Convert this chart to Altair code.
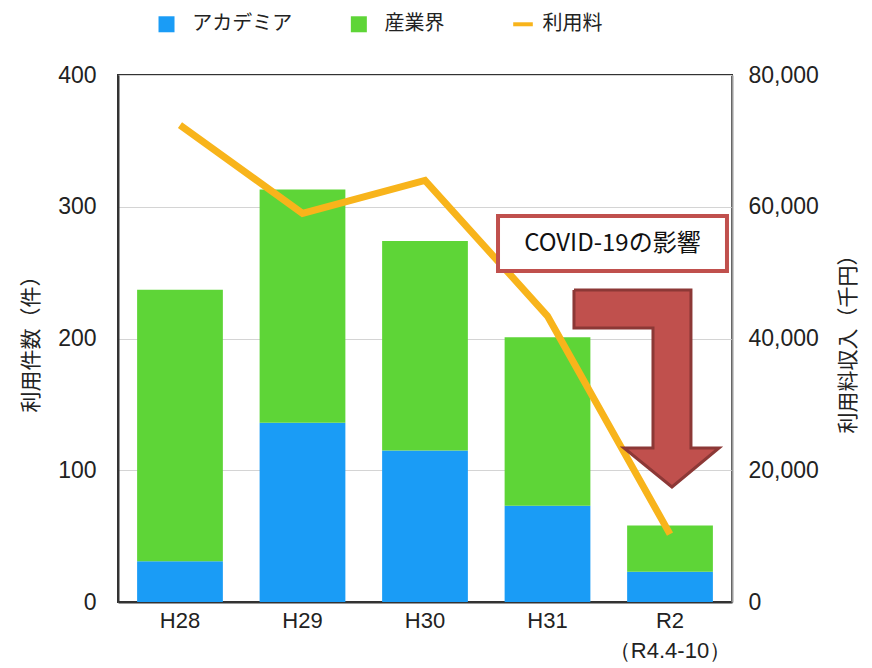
import altair as alt
import pandas as pd

# ---------------- data ----------------
years = ["H28", "H29", "H30", "H31", "R2"]
academia = [31, 136, 115, 73, 23]
industry = [206, 177, 159, 128, 35]
fee = [72400, 59000, 64000, 43400, 10300]

series_names = ["アカデミア", "産業界", "利用料"]
series_colors = ["#1a9cf6", "#5ed537", "#f8b41b"]

annotation_text = "COVID-19の影響"
r2_note = "（R4.4-10）"

# annotation geometry (x: category index units, y: left-axis units)
arrow_x = [3.216, 4.171, 4.171, 4.400, 4.016, 3.624, 3.861, 3.861, 3.216, 3.216]
arrow_y = [236.8, 236.8, 116.9, 116.9, 87.3, 116.9, 116.9, 208.0, 208.0, 236.8]
box_x = [2.596, 4.465]
box_y = [251.2, 293.0]
text_xy = [3.53, 272.0]

# legend layout (same overlay units)
legend_square_x = [-0.11, 1.46]
legend_line_x = [2.72, 2.88]
legend_text_x = [0.10, 1.67, 2.96]
legend_y = 438.5

# ---------------- tables ----------------
bar_rows = []
for i, y in enumerate(years):
    bar_rows.append({"year": y, "series": series_names[0], "value": academia[i], "ord": 0})
    bar_rows.append({"year": y, "series": series_names[1], "value": industry[i], "ord": 1})
bar_df = pd.DataFrame(bar_rows)
line_df = pd.DataFrame({"year": years, "fee": fee})
arrow_df = pd.DataFrame({"ax": arrow_x, "ay": arrow_y, "i": list(range(len(arrow_x)))})
box_df = pd.DataFrame({"x1": [box_x[0]], "x2": [box_x[1]], "y1": [box_y[0]], "y2": [box_y[1]]})
text_df = pd.DataFrame({"tx": [text_xy[0]], "ty": [text_xy[1]], "t": [annotation_text]})
lsq_df = pd.DataFrame({"lx": legend_square_x, "ly": [legend_y] * 2, "c": series_colors[:2]})
lln_df = pd.DataFrame({"lx": [legend_line_x[0]], "lx2": [legend_line_x[1]], "ly": [legend_y]})
ltx_df = pd.DataFrame({"lx": legend_text_x, "ly": [legend_y] * 3, "t": series_names})

JP = "Noto Sans CJK JP"
LAT = "Liberation Sans"
W, H = 614, 527
TXT = "#222222"

xband = alt.Scale(paddingInner=0.3, paddingOuter=0.156)
x_axis = alt.Axis(
    title=None, labelAngle=0, ticks=False, domainColor="#333333", domainWidth=2,
    labelFont=LAT, labelFontSize=22, labelColor=TXT, labelPadding=8, labelLineHeight=30,
    labelExpr=f"datum.value == 'R2' ? ['R2', '{r2_note}'] : datum.value",
)
xenc = alt.X("year:N", sort=years, scale=xband, axis=x_axis)

bars = alt.Chart(bar_df).mark_bar(opacity=1).encode(
    x=xenc,
    y=alt.Y(
        "value:Q", stack="zero", scale=alt.Scale(domain=[0, 400], nice=False),
        axis=alt.Axis(
            values=[0, 100, 200, 300, 400], title="利用件数（件）", ticks=False,
            domainColor="#333333", domainWidth=2, gridColor="#d4d4d4", gridWidth=1,
            labelFont=LAT, labelFontSize=23, labelColor=TXT, labelPadding=22,
            titleFont=JP, titleFontSize=21, titleFontWeight="normal", titleColor=TXT,
            titlePadding=16,
        ),
    ),
    color=alt.Color("series:N", scale=alt.Scale(domain=series_names[:2], range=series_colors[:2]), legend=None),
    order=alt.Order("ord:Q"),
)

line = alt.Chart(line_df).mark_line(color=series_colors[2], strokeWidth=7, strokeCap="butt", strokeJoin="miter").encode(
    x=xenc,
    y=alt.Y(
        "fee:Q", scale=alt.Scale(domain=[0, 80000], nice=False),
        axis=alt.Axis(
            orient="right", values=[0, 20000, 40000, 60000, 80000], format=",.0f", grid=False,
            ticks=False, domainColor="#9a9a9a", domainWidth=2,
            labelFont=LAT, labelFontSize=23, labelColor=TXT, labelPadding=16,
            title="利用料収入（千円）", titleAngle=270, titleFont=JP, titleFontSize=21,
            titleFontWeight="normal", titleColor=TXT, titlePadding=40,
        ),
    ),
)

main = alt.layer(bars, line).resolve_scale(y="independent")

ox = alt.Scale(domain=[-0.506, 4.506], nice=False, zero=False)
oy = alt.Scale(domain=[0, 400], nice=False)

arrow = alt.Chart(arrow_df).mark_line(
    fill="#c0504d", stroke="#8c3836", strokeWidth=3, strokeJoin="miter"
).encode(
    x=alt.X("ax:Q", scale=ox, axis=None),
    y=alt.Y("ay:Q", scale=oy, axis=None),
    order="i:Q",
)

box = alt.Chart(box_df).mark_rect(fill="white", stroke="#c0504d", strokeWidth=4).encode(
    x=alt.X("x1:Q", scale=ox, axis=None), x2="x2:Q",
    y=alt.Y("y1:Q", scale=oy, axis=None), y2="y2:Q",
)

btext = alt.Chart(text_df).mark_text(font=JP, fontSize=24, color="#111111").encode(
    x=alt.X("tx:Q", scale=ox, axis=None),
    y=alt.Y("ty:Q", scale=oy, axis=None),
    text="t:N",
)

lsq = alt.Chart(lsq_df).mark_square(size=256, opacity=1, filled=True).encode(
    x=alt.X("lx:Q", scale=ox, axis=None),
    y=alt.Y("ly:Q", scale=oy, axis=None),
    color=alt.Color("c:N", scale=None, legend=None),
)

lln = alt.Chart(lln_df).mark_rule(color=series_colors[2], strokeWidth=4).encode(
    x=alt.X("lx:Q", scale=ox, axis=None), x2="lx2:Q",
    y=alt.Y("ly:Q", scale=oy, axis=None),
)

ltx = alt.Chart(ltx_df).mark_text(font=JP, fontSize=20, color=TXT, align="left", baseline="middle").encode(
    x=alt.X("lx:Q", scale=ox, axis=None),
    y=alt.Y("ly:Q", scale=oy, axis=None),
    text="t:N",
)

chart = alt.layer(main, arrow, box, btext, lsq, lln, ltx).resolve_scale(
    x="independent", y="independent"
).properties(
    width=W, height=H,
    padding={"left": 12, "top": 6, "right": 5, "bottom": 5},
).configure_view(stroke="#333333", strokeWidth=2)

chart.save("out.html", embed_options={"renderer": "svg", "actions": False})
